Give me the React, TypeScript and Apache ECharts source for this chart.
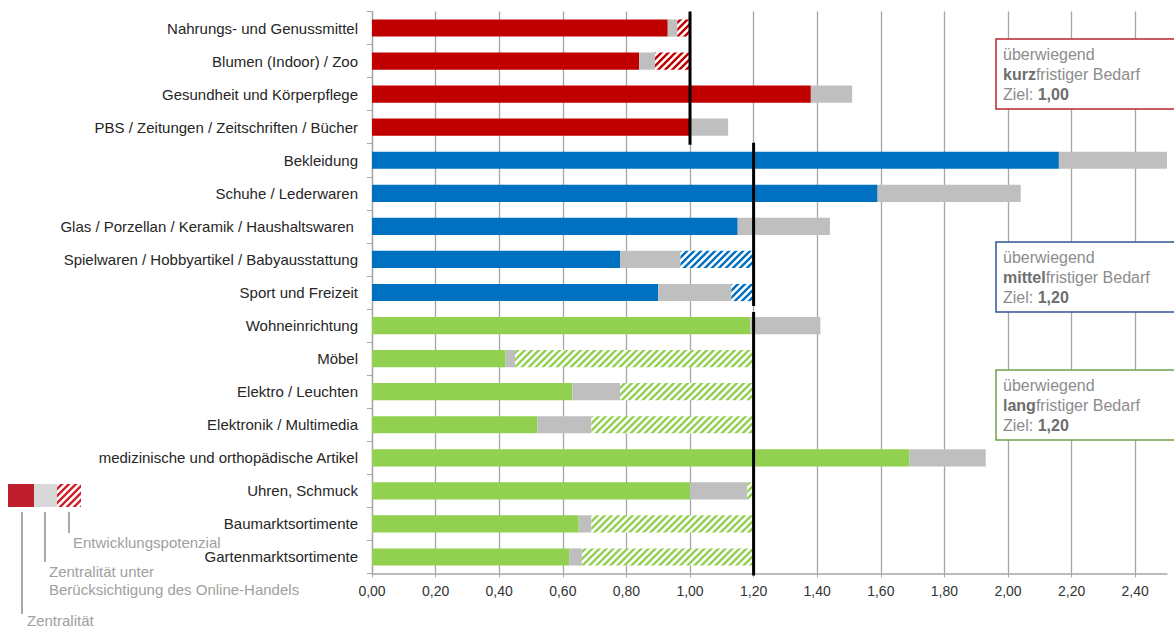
import React, { useEffect, useRef } from "react";
import * as echarts from "echarts";

const categories = [
  "Nahrungs- und Genussmittel",
  "Blumen (Indoor) / Zoo",
  "Gesundheit und Körperpflege",
  "PBS / Zeitungen / Zeitschriften / Bücher",
  "Bekleidung",
  "Schuhe / Lederwaren",
  "Glas / Porzellan / Keramik / Haushaltswaren ",
  "Spielwaren / Hobbyartikel / Babyausstattung",
  "Sport und Freizeit",
  "Wohneinrichtung",
  "Möbel",
  "Elektro / Leuchten",
  "Elektronik / Multimedia",
  "medizinische und orthopädische Artikel",
  "Uhren, Schmuck",
  "Baumarktsortimente",
  "Gartenmarktsortimente",
];

// Zentralität
const zentralitaet = [0.93, 0.84, 1.38, 1.0, 2.16, 1.59, 1.15, 0.78, 0.9, 1.19, 0.42, 0.63, 0.52, 1.69, 1.0, 0.65, 0.62];
// Zentralität unter Berücksichtigung des Online-Handels
const online = [0.96, 0.89, 1.51, 1.12, 2.5, 2.04, 1.44, 0.97, 1.13, 1.41, 0.45, 0.78, 0.69, 1.93, 1.18, 0.69, 0.66];
// Bedarfsgruppe je Kategorie: 0 = kurz, 1 = mittel, 2 = lang
const groupOf = [0, 0, 0, 0, 1, 1, 1, 1, 1, 2, 2, 2, 2, 2, 2, 2, 2];
const groupTargets = [1.0, 1.2, 1.2];
const groupNames = ["kurz", "mittel", "lang"];
const groupTargetLabels = ["1,00", "1,20", "1,20"];
const xTicks = [0, 0.2, 0.4, 0.6, 0.8, 1.0, 1.2, 1.4, 1.6, 1.8, 2.0, 2.2, 2.4];

const groupColors = ["#C00000", "#0070C0", "#92D050"];
const boxBorders = ["#B8242C", "#2F5597", "#6FA04A"];
const FONT = "'Liberation Sans', Arial, sans-serif";

function makeStripes(color: string) {
  const s = 7;
  const c = document.createElement("canvas");
  c.width = s;
  c.height = s;
  const ctx = c.getContext("2d")!;
  ctx.fillStyle = "#ffffff";
  ctx.fillRect(0, 0, s, s);
  ctx.strokeStyle = color;
  ctx.lineWidth = 2.4;
  ctx.beginPath();
  for (let k = -1; k <= 1; k++) {
    ctx.moveTo(k * s - 1, s + 1);
    ctx.lineTo(k * s + s + 1, -1);
  }
  ctx.stroke();
  return { image: c, repeat: "repeat" } as any;
}

export default function App() {
  const ref = useRef<HTMLDivElement>(null);
  useEffect(() => {
    if (!ref.current) return;
    const chart = echarts.init(ref.current, undefined, { renderer: "svg" });
    const stripes = groupColors.map((c) => makeStripes(c));

    const mainData = zentralitaet.map((v, i) => ({
      value: v,
      itemStyle: { color: groupColors[groupOf[i]] },
    }));
    const greyData = online.map((v, i) => Math.max(0, +(v - zentralitaet[i]).toFixed(3)));
    const hatchData = online.map((v, i) => ({
      value: Math.max(0, +(groupTargets[groupOf[i]] - v).toFixed(3)),
      itemStyle: { color: stripes[groupOf[i]] },
    }));

    // target line per group: [target, firstIdx, lastIdx, group]
    const targetData = groupTargets.map((t, g) => {
      const idx = groupOf.map((gg, i) => (gg === g ? i : -1)).filter((i) => i >= 0);
      return [t, idx[0], idx[idx.length - 1], g];
    });
    const trims = [[0, 1], [-1, -3], [3, 2]];

    const boxTops = [39, 242, 370];
    const boxGraphics: any[] = [];
    boxTops.forEach((top, g) => {
      boxGraphics.push({
        type: "rect",
        shape: { x: 996, y: top, width: 190, height: 70 },
        style: { fill: "#fff", stroke: boxBorders[g], lineWidth: 1.5 },
        z: 100,
      });
      boxGraphics.push({
        type: "text",
        x: 1003,
        y: top + 5,
        z: 101,
        style: {
          text:
            "{a|überwiegend}\n{b|" +
            groupNames[g] +
            "}{a|fristiger Bedarf}\n{a|Ziel: }{b|" +
            groupTargetLabels[g] +
            "}",
          rich: {
            a: { fontSize: 16, fontFamily: FONT, fill: "#8C8C8C", lineHeight: 20 },
            b: { fontSize: 16, fontFamily: FONT, fill: "#6E6E6E", fontWeight: "bold", lineHeight: 20 },
          },
        },
      });
    });

    const legendStripes = makeStripes("#D0202A");
    const lg = "#8C8C8C";
    const legendText = "#A0A0A0";
    const LFS = 15;
    const legendGraphics: any[] = [
      { type: "rect", shape: { x: 8, y: 484, width: 26, height: 23 }, style: { fill: "#BE1E2D" } },
      { type: "rect", shape: { x: 34, y: 484, width: 23, height: 23 }, style: { fill: "#D9D9D9" } },
      { type: "rect", shape: { x: 57, y: 484, width: 24, height: 23 }, style: { fill: legendStripes } },
      { type: "line", shape: { x1: 22, y1: 512, x2: 22, y2: 614 }, style: { stroke: lg, lineWidth: 1.5 } },
      { type: "line", shape: { x1: 45, y1: 512, x2: 45, y2: 562 }, style: { stroke: lg, lineWidth: 1.5 } },
      { type: "line", shape: { x1: 69, y1: 512, x2: 69, y2: 533 }, style: { stroke: lg, lineWidth: 1.5 } },
      {
        type: "text", x: 73, y: 542,
        style: { text: "Entwicklungspotenzial", fontSize: LFS, fontFamily: FONT, fill: legendText, verticalAlign: "middle" },
      },
      {
        type: "text", x: 49, y: 571,
        style: { text: "Zentralität unter", fontSize: LFS, fontFamily: FONT, fill: legendText, verticalAlign: "middle" },
      },
      {
        type: "text", x: 49, y: 589,
        style: { text: "Berücksichtigung des Online-Handels", fontSize: LFS, fontFamily: FONT, fill: legendText, verticalAlign: "middle" },
      },
      {
        type: "text", x: 27, y: 620,
        style: { text: "Zentralität", fontSize: LFS, fontFamily: FONT, fill: legendText, verticalAlign: "middle" },
      },
    ];

    chart.setOption({
      animation: false,
      grid: { left: 372, right: 7, top: 11.5, bottom: 54.5, outerBoundsMode: "none", containLabel: false },
      xAxis: {
        type: "value",
        min: 0,
        max: 2.5,
        interval: 0.2,
        axisLine: { show: true, lineStyle: { color: "#A6A6A6", width: 1.5 } },
        axisTick: { show: true, length: 4, lineStyle: { color: "#A6A6A6" } },
        axisLabel: {
          showMaxLabel: false,
          fontSize: 14,
          fontFamily: FONT,
          color: "#333333",
          margin: 10,
          formatter: (v: number) => (xTicks.some((t) => Math.abs(t - v) < 1e-6) ? v.toFixed(2).replace(".", ",") : ""),
        },
        splitLine: { show: true, showMaxLine: false, lineStyle: { color: "#A6A6A6", width: 1.3 } },
      },
      yAxis: {
        type: "category",
        data: categories,
        inverse: true,
        axisLine: { show: true, lineStyle: { color: "#A6A6A6", width: 1.3 } },
        axisTick: { show: true, length: 5, lineStyle: { color: "#A6A6A6" } },
        axisLabel: { fontSize: 15, fontFamily: FONT, color: "#262626", margin: 14 },
        splitLine: { show: false },
      },
      series: [
        { type: "bar", stack: "a", data: mainData, barWidth: "52%", z: 2 },
        { type: "bar", stack: "a", data: greyData, barWidth: "52%", itemStyle: { color: "#BFBFBF" }, z: 2 },
        { type: "bar", stack: "a", data: hatchData, barWidth: "52%", z: 2 },
        {
          type: "custom",
          z: 10,
          encode: { x: 0, y: 1 },
          data: targetData,
          renderItem: (params: any, api: any) => {
            const v = api.value(0);
            const first = api.value(1);
            const last = api.value(2);
            const g = api.value(3);
            const p1 = api.coord([v, first]);
            const p2 = api.coord([v, last]);
            const band = api.size([0, 1])[1];
            const tr = trims[g];
            return {
              type: "line",
              shape: { x1: p1[0], y1: p1[1] - band / 2 + tr[0], x2: p2[0], y2: p2[1] + band / 2 + tr[1] },
              style: { stroke: "#000000", lineWidth: 3 },
            };
          },
        },
      ],
      graphic: [...boxGraphics, ...legendGraphics],
    });
    return () => chart.dispose();
  }, []);
  return <div ref={ref} style={{ position: "fixed", left: 0, top: 0, width: 1174, height: 628, background: "#fff" }} />;
}
